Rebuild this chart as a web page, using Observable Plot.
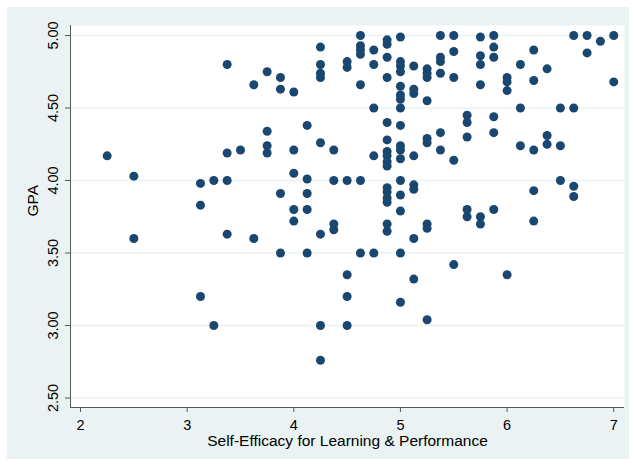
<!DOCTYPE html>
<html>
<head>
<meta charset="utf-8">
<script src="https://cdn.jsdelivr.net/npm/d3@7"></script>
<script src="https://cdn.jsdelivr.net/npm/@observablehq/plot@0.6"></script>
<style>
  html, body { margin: 0; padding: 0; background: #ffffff; }
  #wrap { position: absolute; left: 7px; top: 7px; width: 622px; height: 452px; background: #eaf2f3; }
  #wrap svg { background: transparent; display: block; }
</style>
</head>
<body>
<div id="wrap"></div>
<script>
// Self-efficacy levels (x) and the GPA values observed at each level (y)
const efficacyLevels = [2.25, 2.5, 3.125, 3.25, 3.375, 3.5, 3.625, 3.75, 3.875, 4.0, 4.125, 4.25, 4.375, 4.5, 4.625, 4.75, 4.875, 5.0, 5.125, 5.25, 5.375, 5.5, 5.625, 5.75, 5.875, 6.0, 6.125, 6.25, 6.375, 6.5, 6.625, 6.75, 6.875, 7.0];
const gpaAtLevel = [
  [4.17],
  [4.03, 3.60],
  [3.98, 3.83, 3.20],
  [4.00, 3.00],
  [4.80, 4.19, 4.00, 3.63],
  [4.21],
  [4.66, 3.60],
  [4.75, 4.34, 4.24, 4.19],
  [4.71, 4.63, 3.91, 3.50],
  [4.61, 4.21, 4.05, 3.80, 3.72],
  [4.38, 4.01, 3.91, 3.80, 3.50],
  [4.92, 4.80, 4.74, 4.71, 4.26, 3.63, 3.00, 2.76],
  [4.21, 4.00, 3.70, 3.66],
  [4.82, 4.78, 4.00, 3.35, 3.20, 3.00],
  [5.00, 4.93, 4.90, 4.87, 4.66, 4.00, 3.50],
  [4.90, 4.80, 4.50, 4.17, 3.50],
  [4.97, 4.94, 4.85, 4.71, 4.40, 4.28, 4.20, 4.17, 4.13, 4.10, 3.95, 3.92, 3.88, 3.85, 3.70, 3.65],
  [4.99, 4.82, 4.79, 4.75, 4.65, 4.59, 4.56, 4.50, 4.38, 4.24, 4.21, 4.15, 4.00, 3.90, 3.79, 3.50, 3.16],
  [4.79, 4.63, 4.60, 4.17, 3.97, 3.94, 3.60, 3.32],
  [4.77, 4.74, 4.71, 4.55, 4.29, 4.26, 3.70, 3.67, 3.04],
  [5.00, 4.85, 4.82, 4.74, 4.33, 4.21],
  [5.00, 4.89, 4.71, 4.14, 3.42],
  [4.45, 4.40, 4.30, 3.80, 3.75],
  [4.99, 4.86, 4.80, 4.66, 3.75, 3.70],
  [5.00, 4.92, 4.85, 4.44, 4.33, 3.80],
  [4.71, 4.68, 4.62, 3.35],
  [4.80, 4.50, 4.24],
  [4.90, 4.69, 4.21, 3.93, 3.72],
  [4.77, 4.31, 4.25],
  [4.50, 4.24, 4.00],
  [5.00, 4.50, 3.96, 3.89],
  [5.00, 4.88],
  [4.96],
  [5.00, 4.68]
];
const xTicks = [2, 3, 4, 5, 6, 7];
const yTicks = [2.5, 3.0, 3.5, 4.0, 4.5, 5.0];
const xTitle = "Self-Efficacy for Learning & Performance";
const yTitle = "GPA";

const data = efficacyLevels.flatMap((e, i) => gpaAtLevel[i].map(g => ({efficacy: e, gpa: g})));

const xDomain = [1.906, 7.101];
const yDomain = [2.4345, 5.069];
const font = "'Liberation Sans', Arial, Helvetica, sans-serif";
const axisColor = "#5a5a5a";

const chart = Plot.plot({
  width: 622,
  height: 452,
  marginLeft: 63,
  marginRight: 5,
  marginTop: 18,
  marginBottom: 52,
  style: {fontFamily: font, fontSize: "14.5px", color: "#000", background: "transparent"},
  x: {domain: xDomain},
  y: {domain: yDomain},
  marks: [
    Plot.frame({fill: "white", stroke: null}),
    Plot.gridY({ticks: yTicks, stroke: "#eaf2f3", strokeOpacity: 1, strokeWidth: 1.6}),
    Plot.ruleX([xDomain[0]], {stroke: axisColor, strokeWidth: 1}),
    Plot.ruleY([yDomain[0]], {stroke: axisColor, strokeWidth: 1}),
    Plot.axisX({ticks: xTicks, tickSize: 5, tickPadding: 7, stroke: axisColor, label: null, tickFormat: d => String(d), fill: "#000"}),
    Plot.axisY({ticks: yTicks, tickSize: 5, stroke: axisColor, label: null, text: null}),
    Plot.text(yTicks, {y: d => d, text: d => d.toFixed(2), frameAnchor: "left", dx: -13, rotate: -90, textAnchor: "middle", lineAnchor: "bottom", fill: "#000"}),
    Plot.text([xTitle], {frameAnchor: "bottom", dy: 34, lineAnchor: "middle", fill: "#000", fontSize: 15.5}),
    Plot.text([yTitle], {frameAnchor: "left", dx: -37, rotate: -90, lineAnchor: "middle", fill: "#000", fontSize: 15.5}),
    Plot.dot(data, {x: "efficacy", y: "gpa", r: 4.5, fill: "#1a476f", stroke: null})
  ]
});
document.getElementById("wrap").appendChild(chart);
</script>
</body>
</html>
